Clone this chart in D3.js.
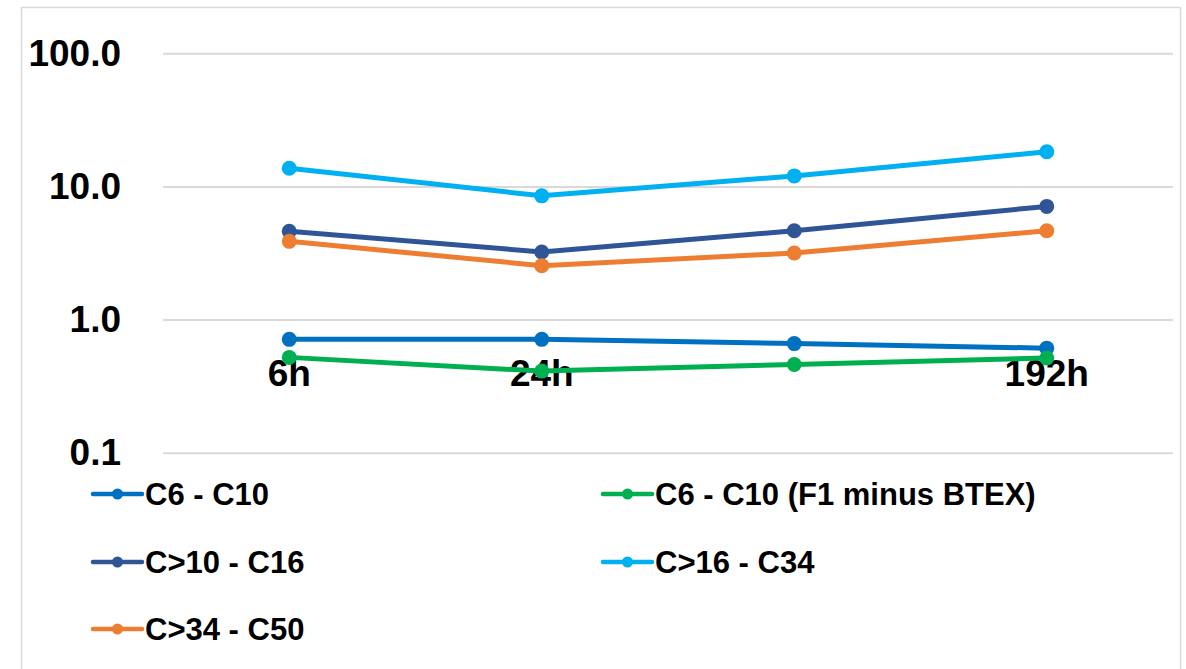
<!DOCTYPE html>
<html>
  <head>
    <script src="https://d3js.org/d3.v7.min.js"></script>
    <style>
      body { margin: 0; background: #fff; }
      text { font-family: "Liberation Sans", Arial, sans-serif; font-weight: bold; fill: #000; }
    </style>
  </head>
  <body>
    <div id="chart"></div>
    <script>
      // time points (third label is blank in the source chart)
      const categories = ["6h", "24h", "", "192h"];
      const yTicks = [0.1, 1, 10, 100];

      const seriesNames = [
        "C6 - C10",
        "C6 - C10 (F1 minus BTEX)",
        "C>10 - C16",
        "C>16 - C34",
        "C>34 - C50",
      ];
      const c6c10 = [0.71, 0.71, 0.66, 0.61];
      const c6c10F1 = [0.52, 0.41, 0.46, 0.515];
      const c10c16 = [4.6, 3.22, 4.65, 7.08];
      const c16c34 = [13.7, 8.5, 12.0, 18.2];
      const c34c50 = [3.87, 2.54, 3.16, 4.65];
      const seriesValues = [c6c10, c6c10F1, c10c16, c16c34, c34c50];
      const colors = ["#0070C0", "#00B050", "#2F5597", "#00B0F0", "#ED7D31"];

      const W = 1186, H = 669;
      const svg = d3.select("#chart").append("svg")
        .attr("width", W).attr("height", H);

      // chart border
      svg.append("rect")
        .attr("x", 21.5).attr("y", 7.5)
        .attr("width", 1159).attr("height", 700)
        .attr("fill", "#fff").attr("stroke", "#d9d9d9").attr("stroke-width", 1.5);

      const plot = { left: 163, right: 1173, top: 53.3, bottom: 452.7 };

      const x = d3.scaleBand()
        .domain(d3.range(categories.length))
        .range([plot.left, plot.right])
        .padding(0);
      const cx = i => x(i) + x.bandwidth() / 2;

      const y = d3.scaleLog()
        .domain([0.1, 100])
        .range([plot.bottom, plot.top]);

      // gridlines + y labels
      const yAxis = svg.append("g")
        .attr("transform", `translate(${plot.left},0)`)
        .call(d3.axisLeft(y)
          .tickValues(yTicks)
          .tickSize(-(plot.right - plot.left))
          .tickPadding(42)
          .tickFormat(d3.format(".1f")));
      yAxis.select(".domain").remove();
      yAxis.selectAll(".tick line").attr("stroke", "#d9d9d9").attr("stroke-width", 2);
      yAxis.selectAll(".tick text").style("font-size", "37px");

      // x labels, axis crosses at 1.0
      const xAxis = svg.append("g")
        .attr("transform", `translate(0,${y(1)})`)
        .call(d3.axisBottom(x)
          .tickSize(0)
          .tickPadding(40)
          .tickFormat(i => categories[i]));
      xAxis.select(".domain").remove();
      xAxis.selectAll(".tick text").style("font-size", "37px");

      const line = d3.line()
        .x((d, i) => cx(i))
        .y(d => y(d));

      seriesValues.forEach((vals, s) => {
        const g = svg.append("g");
        g.append("path")
          .datum(vals)
          .attr("fill", "none")
          .attr("stroke", colors[s])
          .attr("stroke-width", 5)
          .attr("stroke-linejoin", "round")
          .attr("d", line);
        g.selectAll("circle")
          .data(vals)
          .join("circle")
          .attr("cx", (d, i) => cx(i))
          .attr("cy", d => y(d))
          .attr("r", 7.5)
          .attr("fill", colors[s]);
      });

      // legend
      const legendPos = [
        [93, 494], [603, 494],
        [93, 562], [603, 562],
        [93, 629],
      ];
      const legend = svg.append("g")
        .selectAll("g")
        .data(seriesNames)
        .join("g")
        .attr("transform", (d, i) => `translate(${legendPos[i][0]},${legendPos[i][1]})`);
      legend.append("line")
        .attr("x1", 0).attr("x2", 49)
        .attr("stroke", (d, i) => colors[i])
        .attr("stroke-width", 4.5)
        .attr("stroke-linecap", "round");
      legend.append("circle")
        .attr("cx", 24.5).attr("r", 5.5)
        .attr("fill", (d, i) => colors[i]);
      legend.append("text")
        .attr("x", 52)
        .attr("dy", "0.36em")
        .style("font-size", "31px")
        .text(d => d);
    </script>
  </body>
</html>
